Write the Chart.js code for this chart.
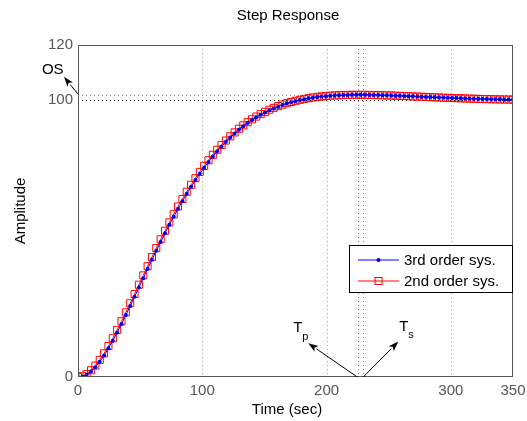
<!DOCTYPE html>
<html><head><meta charset="utf-8">
<script src="https://cdn.jsdelivr.net/npm/chart.js@4/dist/chart.umd.min.js"></script>
<style>html,body{margin:0;padding:0;background:#fff}canvas{display:block}</style>
</head><body>
<canvas id="c" width="527" height="421"></canvas>
<script>
// ---- data ----
const times = [0,3.5,7,10.5,14,17.5,21,24.5,28,31.5,35,38.5,42,45.5,49,52.5,56,59.5,63,66.5,70,73.5,77,80.5,84,87.5,91,94.5,98,101.5,105,108.5,112,115.5,119,122.5,126,129.5,133,136.5,140,143.5,147,150.5,154,157.5,161,164.5,168,171.5,175,178.5,182,185.5,189,192.5,196,199.5,203,206.5,210,213.5,217,220.5,224,227.5,231,234.5,238,241.5,245,248.5,252,255.5,259,262.5,266,269.5,273,276.5,280,283.5,287,290.5,294,297.5,301,304.5,308,311.5,315,318.5,322,325.5,329,332.5,336,339.5,343,346.5,350];
const thirdOrder = [0,0.12,0.80,1.98,3.56,5.54,7.81,10.36,13.14,16.09,19.19,22.39,25.67,28.99,32.35,35.72,39.06,42.37,45.63,48.83,51.95,54.99,57.95,60.81,63.55,66.19,68.73,71.16,73.47,75.67,77.75,79.73,81.60,83.35,85.00,86.55,88.00,89.35,90.60,91.77,92.85,93.85,94.76,95.60,96.38,97.08,97.72,98.30,98.83,99.29,99.71,100.09,100.42,100.71,100.96,101.18,101.36,101.52,101.66,101.76,101.84,101.90,101.95,101.98,102.00,101.99,101.98,101.97,101.94,101.90,101.86,101.81,101.75,101.70,101.63,101.57,101.50,101.44,101.37,101.30,101.24,101.17,101.11,101.04,100.98,100.92,100.86,100.80,100.75,100.70,100.64,100.60,100.55,100.50,100.46,100.42,100.38,100.35,100.31,100.28,100.25];
const secondOrder = [0,0.29,1.12,2.43,4.13,6.20,8.56,11.18,14.01,17.01,20.14,23.37,26.66,30.00,33.36,36.72,40.05,43.35,46.59,49.77,52.87,55.88,58.81,61.64,64.35,66.96,69.47,71.86,74.14,76.30,78.35,80.30,82.13,83.85,85.47,86.99,88.41,89.73,90.96,92.10,93.15,94.13,95.02,95.84,96.60,97.28,97.90,98.46,98.97,99.42,99.83,100.19,100.51,100.79,101.03,101.24,101.41,101.56,101.69,101.79,101.86,101.92,101.96,101.99,102.00,101.99,101.98,101.96,101.93,101.89,101.84,101.79,101.73,101.68,101.61,101.55,101.48,101.42,101.35,101.28,101.22,101.15,101.09,101.02,100.96,100.90,100.84,100.78,100.73,100.68,100.62,100.58,100.53,100.49,100.44,100.40,100.37,100.33,100.30,100.27,100.24];
const xTicks = [0,100,200,300,350];
const yTicks = [0,100,120];
const seriesNames = ['3rd order sys.','2nd order sys.'];
const finalValue = 100, overshootValue = 102, peakTime = 225, settleTime = 229.5;
// annotation anchors (data units)
const osArrow = {from:[0,102.2], to:[-11.3,108.5]};
const tpArrow = {from:[224.7,0], to:[185.3,12.2]};
const tsArrow = {from:[229.5,0], to:[257.7,12.8]};

const FONT = '"Liberation Sans", Arial, Helvetica, sans-serif';

function seg(ctx,x1,y1,x2,y2){ctx.beginPath();ctx.moveTo(x1,y1);ctx.lineTo(x2,y2);ctx.stroke();}
function arrow(ctx,x1,y1,x2,y2){
  ctx.save();
  ctx.strokeStyle='#000';ctx.fillStyle='#000';ctx.lineWidth=1;ctx.setLineDash([]);
  const ang=Math.atan2(y2-y1,x2-x1), L=10, W=3.5;
  const bx=x2-L*Math.cos(ang), by=y2-L*Math.sin(ang);
  seg(ctx,x1,y1,bx,by);
  ctx.beginPath();
  ctx.moveTo(x2,y2);
  ctx.lineTo(bx+W*Math.sin(ang),by-W*Math.cos(ang));
  ctx.lineTo(bx+L*0.25*Math.cos(ang),by+L*0.25*Math.sin(ang));
  ctx.lineTo(bx-W*Math.sin(ang),by+W*Math.cos(ang));
  ctx.closePath();ctx.fill();
  ctx.restore();
}

const matlab = {
  id:'matlab',
  beforeDatasetsDraw(chart){
    const {ctx, chartArea:a, scales:{x,y}} = chart;
    ctx.save();
    ctx.lineWidth=1;
    ctx.setLineDash([1,3]);
    ctx.strokeStyle='rgba(0,0,0,0.35)';
    xTicks.forEach(v=>{const p=Math.round(x.getPixelForValue(v))+0.5; if(p>a.left+2&&p<a.right-2) seg(ctx,p,a.top,p,a.bottom);});
    yTicks.forEach(v=>{const p=Math.round(y.getPixelForValue(v))+0.5; if(p>a.top+2&&p<a.bottom-2) seg(ctx,a.left,p,a.right,p);});
    // characteristic lines
    ctx.strokeStyle='rgba(0,0,0,0.85)';
    let p=Math.round(y.getPixelForValue(finalValue))+0.5; seg(ctx,a.left,p,a.right,p);
    ctx.strokeStyle='rgba(0,0,0,0.5)';
    p=Math.round(y.getPixelForValue(overshootValue))+0.5; seg(ctx,a.left,p,a.right,p);
    p=Math.round(x.getPixelForValue(peakTime))+0.5; seg(ctx,p,a.top,p,a.bottom);
    p=Math.round(x.getPixelForValue(settleTime))+0.5; seg(ctx,p,a.top,p,a.bottom);
    ctx.restore();
  },
  afterDraw(chart){
    const {ctx, chartArea:a, scales:{x,y}} = chart;
    ctx.save();
    // axes box
    ctx.strokeStyle='#555';ctx.lineWidth=1;ctx.setLineDash([]);
    ctx.strokeRect(Math.round(a.left)+0.5,Math.round(a.top)+0.5,Math.round(a.right-a.left)-1,Math.round(a.bottom-a.top)-1);
    // arrows
    const P=(d)=>[x.getPixelForValue(d[0]),y.getPixelForValue(d[1])];
    [osArrow,tpArrow,tsArrow].forEach(ar=>{const f=P(ar.from),t=P(ar.to);arrow(ctx,f[0],f[1],t[0],t[1]);});
    // annotation texts
    ctx.fillStyle='#000';ctx.textBaseline='alphabetic';ctx.textAlign='left';
    ctx.font='15px '+FONT;
    let t=P(osArrow.to); ctx.fillText('OS',t[0]-22,t[1]-3);
    t=P(tpArrow.to); ctx.fillText('T',t[0]-15,t[1]-11);
    ctx.font='11px '+FONT; ctx.fillText('p',t[0]-6,t[1]-3);
    t=P(tsArrow.to); ctx.font='15px '+FONT; ctx.fillText('T',t[0]+1,t[1]-11);
    ctx.font='11px '+FONT; ctx.fillText('s',t[0]+10,t[1]-4);
    // title and axis labels
    ctx.font='15px '+FONT; ctx.textAlign='center';
    ctx.fillText('Step Response',288,20);
    ctx.fillText('Time (sec)',287,414);
    ctx.save();ctx.translate(25,(a.top+a.bottom)/2);ctx.rotate(-Math.PI/2);ctx.fillText('Amplitude',0,0);ctx.restore();
    // legend
    const lw=164,lh=48,lx=Math.round(a.right)-lw,ly=Math.round(a.top)+200;
    ctx.fillStyle='#fff';ctx.fillRect(lx,ly,lw,lh);
    ctx.strokeStyle='#000';ctx.strokeRect(lx+0.5,ly+0.5,lw-1,lh-1);
    const ds=chart.data.datasets;
    [0,1].forEach(i=>{
      const cy=ly+15+i*21, x1=lx+9, x2=lx+50, cx=(x1+x2)/2;
      ctx.strokeStyle=ds[i].borderColor;ctx.lineWidth=1;seg(ctx,x1,cy,x2,cy);
      if(i===0){ctx.fillStyle=ds[i].borderColor;ctx.beginPath();ctx.arc(cx,cy,2,0,Math.PI*2);ctx.fill();}
      else{ctx.strokeStyle=ds[i].borderColor;ctx.strokeRect(cx-3.5,cy-3.5,7,7);}
      ctx.fillStyle='#000';ctx.textAlign='left';ctx.textBaseline='middle';ctx.font='15px '+FONT;
      ctx.fillText(seriesNames[i],lx+55,cy+1);
    });
    ctx.restore();
  }
};

new Chart(document.getElementById('c'),{
  type:'line',
  data:{datasets:[
    {label:seriesNames[0],data:times.map((t,i)=>({x:t,y:thirdOrder[i]})),borderColor:'#0000ff',borderWidth:1,
     pointStyle:'circle',pointRadius:2,pointBackgroundColor:'#0000ff',pointBorderColor:'#0000ff',pointBorderWidth:0,order:0},
    {label:seriesNames[1],data:times.map((t,i)=>({x:t,y:secondOrder[i]})),borderColor:'#ff0000',borderWidth:1,
     pointStyle:'rect',pointRadius:5,pointBackgroundColor:'rgba(0,0,0,0)',pointBorderColor:'#ff0000',pointBorderWidth:1,order:1}
  ]},
  options:{
    responsive:false,animation:false,events:[],
    layout:{padding:{top:45,right:14,left:0,bottom:0}},
    plugins:{legend:{display:false},title:{display:false},tooltip:{enabled:false}},
    elements:{line:{tension:0}},
    scales:{
      x:{type:'linear',min:0,max:350,
         afterBuildTicks:s=>{s.ticks=xTicks.map(v=>({value:v}));},
         afterFit:s=>{s.height=44;s.paddingLeft=0;s.paddingRight=0;},
         grid:{display:false,drawTicks:false},border:{display:false},
         ticks:{padding:5,color:'#555',font:{family:FONT,size:15},maxRotation:0,autoSkip:false}},
      y:{type:'linear',min:0,max:120,
         afterBuildTicks:s=>{s.ticks=yTicks.map(v=>({value:v}));},
         afterFit:s=>{s.width=78;s.paddingTop=0;s.paddingBottom=0;},
         grid:{display:false,drawTicks:false},border:{display:false},
         ticks:{padding:5,color:'#555',font:{family:FONT,size:15},autoSkip:false}}
    }
  },
  plugins:[matlab]
});
</script>
</body></html>
